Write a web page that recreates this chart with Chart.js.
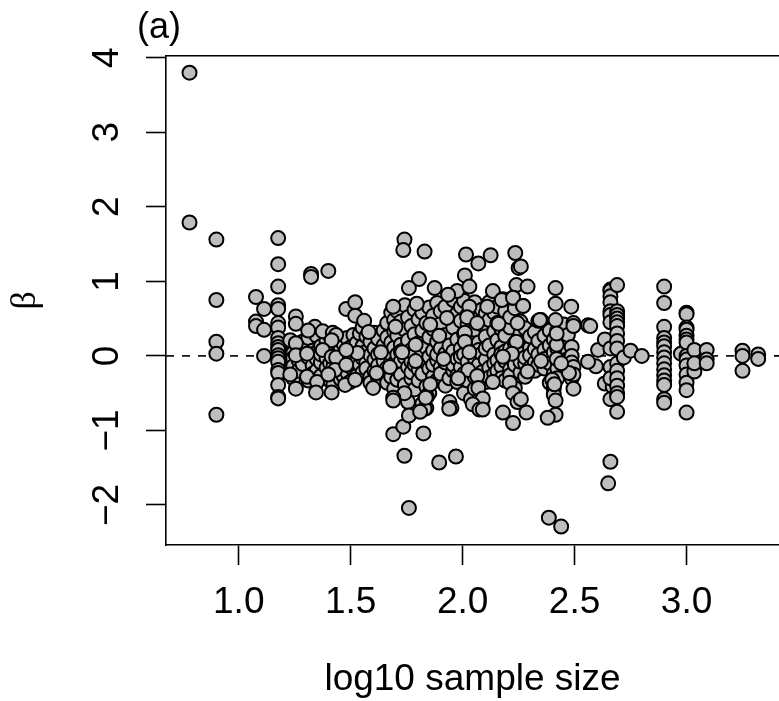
<!DOCTYPE html>
<html><head><meta charset="utf-8">
<style>html,body{margin:0;padding:0;background:#fff}#w{width:779px;height:701px;position:relative}</style>
<script src="https://cdn.jsdelivr.net/npm/chart.js@4"></script></head>
<body><div id="w"><canvas id="c" width="779" height="701"></canvas></div>
<script>
const xTickValues = [1.0, 1.5, 2.0, 2.5, 3.0];
const yTickValues = [-2, -1, 0, 1, 2, 3, 4];
const panelLabel = "(a)";
const xTitle = "log10 sample size";
const yTitle = "β";
const logSampleSize = [1.204,1.217,1.243,1.267,1.285,1.311,1.33,1.348,1.367,1.392,1.408,1.423,1.44,1.455,1.468,1.484,1.497,1.512,1.526,1.541,1.553,1.57,1.588,1.606,1.622,1.647,1.663,1.681,1.694,1.708,1.724,1.742,1.756,1.771,1.785,1.803,1.82,1.838,1.851,1.868,1.886,1.902,1.923,1.941,1.958,1.976,1.992,2.006,2.022,2.037,2.054,2.072,2.086,2.103,2.119,2.141,2.155,2.173,2.19,2.212,2.233,2.258,2.279,2.301,2.322,2.338,2.365,2.389,2.407,2.423,2.452,2.47,2.487];
const betaByColumn = [
[0.16,0.06,-0.09,-0.17],[0.02,-0.22,0.12],[0.14,0.04,-0.03,-0.14,-0.3],[0.09,-0.06,-0.2],[0.19,0.02,-0.11],
[0.11,-0.02,-0.33,0.24],[0.07,-0.13,-0.24],[0.27,0.05,-0.04,-0.2],[0.13,-0.09,-0.27,0.02],[0.2,-0.03,-0.16],
[0.07,0.27,-0.1,-0.33],[0.13,-0.05,-0.14,-0.38],[0.03,0.22,-0.2],[0.09,-0.07,-0.31],[0.16,0.01,-0.12,-0.27],
[0.24,0.04,-0.06,-0.22],[0.11,-0.14,-0.35],[0.28,0.06,-0.01,-0.18],[0.17,-0.08,-0.27],[0.03,0.3,-0.12],
[0.13,-0.03,-0.22,0.38],[0.06,0.26,-0.09,-0.17],[0.19,0.01,-0.28,-0.36],[0.1,0.31,-0.05,-0.2],[0.02,0.23,-0.13,-0.3],
[0.14,0.34,-0.02,-0.25,-0.07],[0.06,0.44,0.25,-0.16,-0.36],[0.18,0.58,-0.05,-0.28,0.02],[0.11,0.33,-0.1,-0.44,0.48],[0.27,0.6,0.02,-0.19,-0.32],
[0.15,0.46,-0.07,-0.25,0.06],[0.35,0.68,-0.02,-0.39,0.09],[0.21,0.52,-0.15,-0.62,0.03],[0.08,0.4,-0.08,-0.3,-0.22],[0.29,0.62,0.01,-0.12,-0.45],
[0.17,0.49,-0.05,-0.33,-0.18],[0.34,0.58,0.04,-0.24,-0.64],[0.11,0.44,-0.09,-0.41,-0.7],[0.25,0.65,-0.01,-0.17,-0.5],[0.07,0.36,0.54,-0.28,-0.12],
[0.19,0.71,-0.06,-0.33,0.02],[0.43,0.6,0.1,-0.15,-0.24],[0.28,0.66,0.03,-0.4,-0.09],[0.14,0.5,-0.02,-0.3,-0.62],[0.38,0.75,0.06,-0.2,-0.12],
[0.22,0.57,-0.04,-0.35,-0.26],[0.47,0.66,0.1,-0.15,-0.01],[0.3,0.74,0.02,-0.24,-0.5],[0.16,0.42,-0.08,-0.33,0.55],[0.05,0.6,0.25,-0.18,-0.58],
[0.35,0.72,-0.03,-0.28,-0.44],[0.18,0.5,0.08,-0.12,-0.6],[0.42,0.62,0.03,-0.22,-0.68],[0.26,0.57,-0.05,-0.35,0.1],[0.14,0.48,0.72,-0.16,-0.29],
[0.33,0.58,0.02,-0.1,-0.24],[0.21,0.44,-0.06,-0.2,0.66],[0.12,0.36,-0.14,-0.3,0.03],[0.27,0.6,0.06,-0.07,-0.33],[0.38,0.52,0.1,-0.18,-0.26],
[0.17,0.64,-0.03,-0.12,-0.43],[0.3,0.46,0.05,-0.22,-0.08],[0.2,0.37,-0.1,-0.02,-0.28],[0.11,0.26,-0.16,0.01],[0.32,0.09,-0.09,-0.2],
[0.47,0.2,0.02,-0.12],[0.27,0.08,-0.04,-0.17],[0.14,0.34,-0.1,-0.36],[0.22,0.05,-0.24,-0.44,-0.52],[0.34,0.1,-0.07,-0.17,-0.3],
[0.16,0.03,-0.12,0.42],[0.28,0.07,-0.04,-0.19],[0.12,0.0,-0.09,-0.3]
];
const topLogSize = [0.78,0.78,0.9,0.9,0.9,0.9,0.9,1.077,1.077,1.077,1.113,1.113,1.113,
1.176,1.176,1.176,1.176,1.176,1.176,1.176,1.176,1.176,1.176,1.176,1.176,1.176,1.176,1.176,1.176,1.176,1.176,1.176,
1.255,1.255,1.23,1.255,1.255,1.23,1.305,1.305,1.35,1.255,1.345,1.415,1.34,1.31,1.375,1.42,1.435,1.415,1.375,1.415,1.435,1.43,1.4,
1.323,1.323,1.40,1.48,1.53,1.48,1.48,1.52,1.52,1.475,1.52,1.56,1.58,1.6,1.615,1.635,1.675,1.73,1.79,1.79,
1.74,1.735,1.83,1.805,1.76,1.875,1.975,1.935,2.015,2.01,2.03,2.03,2.02,2.065,2.01,2.01,2.03,2.025,2.065,1.98,2.07,2.09,2.045,2.075,2.09,1.95,
1.69,1.735,1.76,1.825,1.94,1.74,1.895,1.97,1.76,2.385,2.44,1.83,1.81,1.84,1.74,1.69,1.69,1.855,1.895,1.93,1.915,1.855,1.835,1.7,1.69,1.795,
2.125,2.07,2.235,2.25,2.26,2.135,2.24,2.29,2.18,2.225,2.27,2.415,2.415,2.485,2.495,2.495,2.35,2.415,2.345,2.175,2.225,2.11,2.16,2.245,2.27,2.24,2.22,2.18,2.135,2.21,2.225,2.245,2.26,2.18,2.285,2.225,2.29,2.35,
2.42,2.42,2.4,2.41,2.415,2.415,2.38,2.495,2.495,2.495,2.475,2.42,2.44,
2.56,2.57,2.605,2.595,2.56,2.635,2.635,2.67,2.66,2.66,2.66,2.66,2.66,2.66,2.66,2.66,2.66,2.66,2.65,2.66,2.66,
2.69,2.69,2.69,2.69,2.69,2.69,2.69,2.69,2.69,2.69,2.69,2.69,2.69,2.69,2.69,2.69,2.72,2.75,2.8,
2.9,2.9,2.9,2.9,2.9,2.9,2.9,2.9,2.9,2.9,2.9,2.9,2.9,2.9,2.9,2.975,
3.0,3.0,3.0,3.0,3.0,3.0,3.0,3.0,3.0,3.0,3.0,3.0,3.0,3.0,3.035,3.035,3.035,3.09,3.09,3.09,3.25,3.25,3.25,3.32,3.32];
const topBeta = [3.8,1.79,1.56,0.75,0.19,0.03,-0.79,0.79,0.46,0.40,0.63,0.35,0.0,
1.58,1.23,0.93,0.68,0.63,0.44,0.38,0.24,0.17,0.12,0.08,0.01,-0.03,-0.08,-0.19,-0.23,-0.39,-0.55,-0.57,
0.53,0.43,0.21,0.17,0.01,-0.25,0.03,-0.28,-0.35,-0.44,-0.49,-0.49,0.39,0.34,0.33,0.31,0.28,0.21,0.08,-0.01,-0.02,-0.19,-0.25,
1.10,1.06,1.14,0.63,0.04,0.08,-0.12,0.72,0.54,-0.39,-0.32,0.47,0.32,-0.43,-0.23,0.05,-0.15,0.05,0.15,-0.07,
1.56,1.42,1.40,1.03,0.91,0.91,0.87,0.82,1.36,1.08,0.93,0.66,0.52,0.44,0.31,0.19,0.05,-0.19,-0.27,-0.3,-0.43,-0.57,-0.65,-0.72,-0.72,-0.7,
-1.05,-0.95,-0.8,-1.04,-0.71,-1.34,-1.43,-1.35,-2.04,-2.17,-2.29,-0.71,-0.75,-0.55,-0.5,-0.56,-0.6,0.42,0.27,0.51,-0.04,-0.38,-0.56,0.39,0.66,0.7,
1.35,1.24,1.38,1.18,1.2,0.87,0.95,0.93,0.76,0.78,0.67,0.91,0.7,0.66,0.44,0.40,0.48,0.48,0.48,0.75,0.78,0.66,0.43,0.44,0.67,0.19,0.03,-0.01,-0.35,-0.36,-0.5,-0.62,-0.58,-0.76,-0.76,-0.9,-0.21,-0.07,
0.15,-0.04,-0.32,-0.38,-0.6,-0.79,-0.83,-0.15,-0.25,-0.44,-0.23,0.3,-0.1,
0.41,0.40,0.08,-0.14,-0.08,0.22,-0.37,-0.41,0.89,0.87,0.8,0.72,0.6,0.55,0.45,0.1,-0.15,-0.58,-1.71,-1.42,-0.3,
0.95,0.6,0.55,0.5,0.45,0.4,0.3,0.2,0.1,-0.1,-0.2,-0.3,-0.4,-0.5,-0.55,-0.75,-0.02,0.07,0.0,
0.93,0.71,0.39,0.24,0.18,0.13,0.05,-0.02,-0.1,-0.18,-0.26,-0.33,-0.39,-0.58,-0.63,0.03,
0.58,0.56,0.38,0.35,0.27,0.22,0.18,0.0,-0.05,-0.13,-0.25,-0.36,-0.46,-0.76,0.08,-0.21,-0.1,0.08,-0.05,-0.1,0.07,0.0,-0.2,0.02,-0.04];
const points = [];
logSampleSize.forEach((x, i) => betaByColumn[i].forEach(y => points.push({x, y})));
topLogSize.forEach((x, i) => { if (topBeta[i] !== undefined) points.push({x, y: topBeta[i]}); });

const xMin = 0.675, xMax = 3.413, yMin = -2.537, yMax = 4.03;
const fontName = "'Liberation Sans', Arial, sans-serif";

const panelLabelPlugin = {
  id: 'panelLabel',
  afterDraw(chart) {
    const ctx = chart.ctx;
    ctx.save();
    ctx.fillStyle = '#000';
    ctx.font = "36px " + fontName;
    ctx.textAlign = 'left';
    ctx.textBaseline = 'alphabetic';
    ctx.fillText(panelLabel, 137, 38);
    ctx.restore();
  }
};

new Chart(document.getElementById('c'), {
  type: 'scatter',
  data: { datasets: [
    { data: points, backgroundColor: '#BEBEBE', borderColor: '#000', borderWidth: 2, pointRadius: 7, pointHoverRadius: 7 },
    { type: 'line', data: [{x: xMin, y: 0}, {x: xMax, y: 0}], borderColor: '#000', borderWidth: 1.6, borderDash: [8, 8], pointRadius: 0, fill: false }
  ]},
  plugins: [panelLabelPlugin],
  options: {
    responsive: false, animation: false,
    layout: { autoPadding: false, padding: { top: 55.5, left: 0, right: 0, bottom: 0 } },
    plugins: { legend: { display: false }, tooltip: { enabled: false } },
    scales: {
      x: {
        type: 'linear', min: xMin, max: xMax, position: 'bottom',
        afterFit: s => { s.height = 156; },
        afterBuildTicks: s => { s.ticks = xTickValues.map(value => ({value})); },
        border: { display: true, color: '#000', width: 1.6 },
        grid: { display: true, drawOnChartArea: false, drawTicks: true, tickLength: 20, tickColor: '#000', tickWidth: 1.6 },
        ticks: { color: '#000', font: { family: fontName, size: 37 }, padding: 16, maxRotation: 0, minRotation: 0, autoSkip: false, callback: v => Number(v).toFixed(1) },
        title: { display: true, text: xTitle, color: '#000', font: { family: fontName, size: 37 }, padding: { top: 0, bottom: -1 } }
      },
      xTop: {
        type: 'linear', min: xMin, max: xMax, position: 'top',
        afterFit: s => { s.height = 0; },
        border: { display: true, color: '#000', width: 1.6 },
        grid: { display: false, drawTicks: false },
        ticks: { display: false }
      },
      y: {
        type: 'linear', min: yMin, max: yMax, position: 'left',
        afterFit: s => { s.width = 166; },
        afterBuildTicks: s => { s.ticks = yTickValues.map(value => ({value})); },
        border: { display: true, color: '#000', width: 1.6 },
        grid: { display: true, drawOnChartArea: false, drawTicks: true, tickLength: 20, tickColor: '#000', tickWidth: 1.6 },
        ticks: { color: '#000', font: { family: fontName, size: 37 }, padding: 17, minRotation: 90, maxRotation: 90, autoSkip: false, crossAlign: 'center', callback: v => String(v).replace('-', '\u2212') },
        title: { display: true, text: yTitle, color: '#000', font: { family: "'Liberation Serif', serif", size: 36 }, padding: { top: 4, bottom: 0 } }
      }
    }
  }
});
</script></body></html>
